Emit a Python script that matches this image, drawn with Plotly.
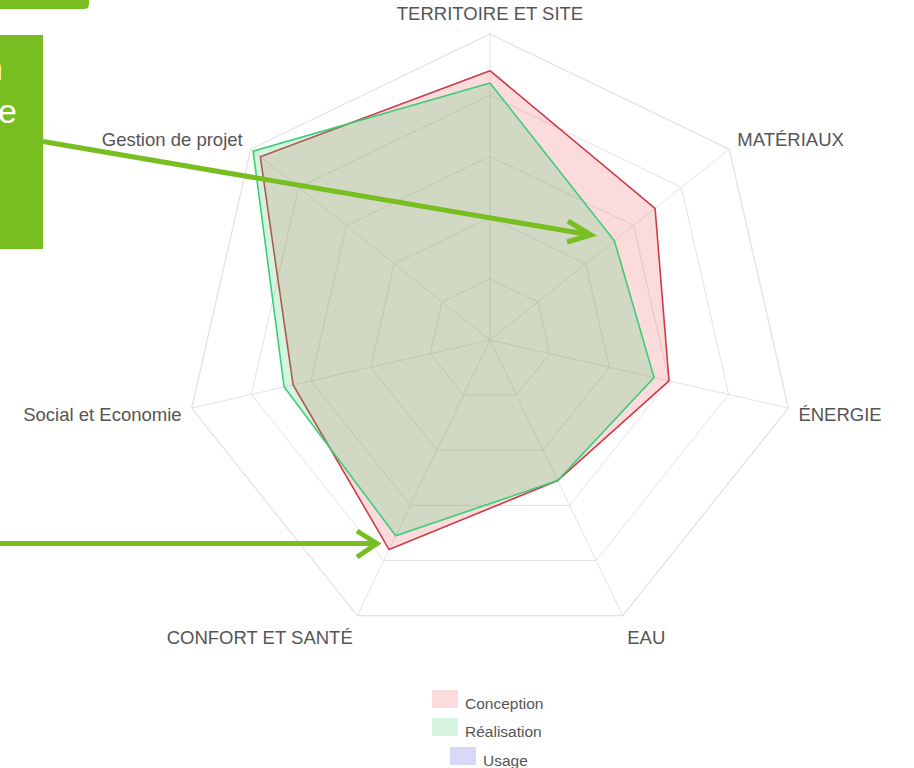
import plotly.graph_objects as go

# ---------------- data ----------------
categories = ["TERRITOIRE ET SITE", "MATÉRIAUX", "ÉNERGIE", "EAU",
              "CONFORT ET SANTÉ", "Social et Economie", "Gestion de projet"]
conception = [88, 69, 60, 51, 76, 66, 96]
realisation = [84, 52, 55, 51, 71, 69, 99]
usage = [None, None, None, None, None, None, None]
series_names = ["Conception", "Réalisation", "Usage"]

W, H = 914, 768
def px(x):
    return x / W
def py(y):
    return 1 - y / H

FONT = "Liberation Sans, Arial, sans-serif"
line_colors = ["rgb(205,60,70)", "rgb(60,205,120)", "rgb(130,120,230)"]
fill_colors = ["rgba(240,90,95,0.22)", "rgba(60,205,110,0.22)", "rgba(120,115,235,0.28)"]

fig = go.Figure()
for name, vals, lc, fc in zip(series_names, [conception, realisation, usage], line_colors, fill_colors):
    fig.add_trace(go.Scatterpolar(
        r=vals + [vals[0]], theta=categories + [categories[0]],
        name=name, mode="lines", fill="toself", fillcolor=fc,
        line=dict(color=lc, width=1.6), showlegend=False, hoverinfo="skip"))

cx, cy, R = 490, 340, 306
fig.update_layout(
    width=W, height=H, margin=dict(l=0, r=0, t=0, b=0),
    paper_bgcolor="white", plot_bgcolor="white",
    font=dict(family=FONT, color="#555"),
    polar=dict(
        domain=dict(x=[px(cx - R), px(cx + R)], y=[py(cy + R), py(cy - R)]),
        bgcolor="white", gridshape="linear",
        radialaxis=dict(range=[0, 100], dtick=20, showticklabels=False, ticks="",
                        showline=False, gridcolor="#e3e3e3", gridwidth=1.3),
        angularaxis=dict(direction="clockwise", rotation=90,
                         ticks="outside", ticklen=6, tickcolor="rgba(0,0,0,0)",
                         gridcolor="#e3e3e3", gridwidth=1.3, linecolor="#e3e3e3", linewidth=1.3,
                         tickfont=dict(size=18.5, color="#555", family=FONT)),
    ),
)

# ---------------- manual legend ----------------
legend_rows = [(432, 699), (432, 727), (450, 756)]
shapes = []
annotations = []
for (bx, by), name, fc in zip(legend_rows, series_names, fill_colors):
    shapes.append(dict(type="rect", xref="paper", yref="paper",
                       x0=px(bx), x1=px(bx + 26), y0=py(by + 9), y1=py(by - 9),
                       fillcolor=fc, line=dict(width=0)))
    annotations.append(dict(xref="paper", yref="paper", x=px(bx + 31), y=py(by + 4),
                            text=name, showarrow=False, xanchor="left", yanchor="middle",
                            font=dict(size=15.5, color="#555", family=FONT)))

# ---------------- green call-out overlay ----------------
green = "#78BE20"
shapes.append(dict(type="path", xref="paper", yref="paper",
                   path=f"M {px(0)},{py(0)} L {px(89)},{py(0)} L {px(89)},{py(4)} "
                        f"Q {px(89)},{py(9)} {px(84)},{py(9)} L {px(0)},{py(9)} Z",
                   fillcolor=green, line=dict(width=0)))
shapes.append(dict(type="rect", xref="paper", yref="paper",
                   x0=px(0), x1=px(43), y0=py(249), y1=py(35),
                   fillcolor=green, line=dict(width=0)))
# arrow 1
shapes.append(dict(type="line", xref="paper", yref="paper",
                   x0=px(43), y0=py(141.5), x1=px(588), y1=py(234.5),
                   line=dict(color=green, width=5)))
shapes.append(dict(type="path", xref="paper", yref="paper",
                   path=f"M {px(568)},{py(221)} L {px(591)},{py(235)} L {px(567)},{py(242)}",
                   line=dict(color=green, width=5)))
# arrow 2
shapes.append(dict(type="line", xref="paper", yref="paper",
                   x0=px(0), y0=py(543.5), x1=px(375), y1=py(543.5),
                   line=dict(color=green, width=5)))
shapes.append(dict(type="path", xref="paper", yref="paper",
                   path=f"M {px(357)},{py(531)} L {px(377)},{py(543.5)} L {px(357)},{py(557)}",
                   line=dict(color=green, width=5)))

annotations.append(dict(xref="paper", yref="paper", x=px(5), y=py(68), text="n",
                        showarrow=False, xanchor="right", yanchor="middle",
                        font=dict(size=34, color="white", family=FONT)))
annotations.append(dict(xref="paper", yref="paper", x=px(19), y=py(111), text="e",
                        showarrow=False, xanchor="right", yanchor="middle",
                        font=dict(size=34, color="white", family=FONT)))

fig.update_layout(shapes=shapes, annotations=annotations)
fig.write_html("out.html", config={"displayModeBar": False},
               post_script="document.body.style.margin='0';")
